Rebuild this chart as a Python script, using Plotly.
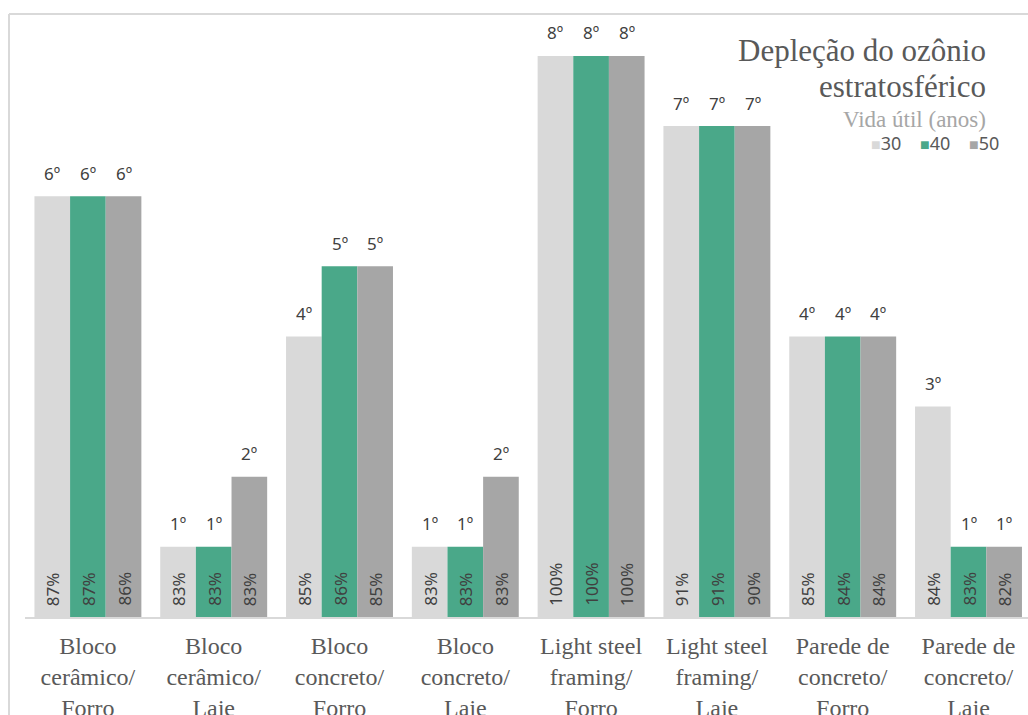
import plotly.graph_objects as go

# Building systems compared
tick_labels = [
    "Bloco<br>cerâmico/<br>Forro",
    "Bloco<br>cerâmico/<br>Laje",
    "Bloco<br>concreto/<br>Forro",
    "Bloco<br>concreto/<br>Laje",
    "Light steel<br>framing/<br>Forro",
    "Light steel<br>framing/<br>Laje",
    "Parede de<br>concreto/<br>Forro",
    "Parede de<br>concreto/<br>Laje",
]

# Service life scenarios (years)
series_names = ["30", "40", "50"]
series_colors = ["#D9D9D9", "#4AA889", "#A6A6A6"]

# Ranking position for each scenario
rank_30 = [6, 1, 4, 1, 8, 7, 4, 3]
rank_40 = [6, 1, 5, 1, 8, 7, 4, 1]
rank_50 = [6, 2, 5, 2, 8, 7, 4, 1]

# Relative impact (% of the worst system)
pct_30 = [87, 83, 85, 83, 100, 91, 85, 84]
pct_40 = [87, 83, 86, 83, 100, 91, 84, 83]
pct_50 = [86, 83, 85, 83, 100, 90, 84, 82]

ranks = [rank_30, rank_40, rank_50]
pcts = [pct_30, pct_40, pct_50]

W, H = 1028, 715
M_L, M_R, M_T, M_B = 25, 0, 20, 98
BARGAP = 0.15
CAT_PX = 125.8
UNIT_PX = 70.14

plot_w = W - M_L - M_R
plot_h = H - M_T - M_B
x_max = -0.5 + plot_w / CAT_PX
y_max = plot_h / UNIT_PX

SERIF = "Times New Roman, Liberation Serif, DejaVu Serif, serif"
SANS = "Noto Sans"

fig = go.Figure()
idx = list(range(len(tick_labels)))
for name, color, r in zip(series_names, series_colors, ranks):
    fig.add_trace(go.Bar(
        x=idx, y=r, name=name, marker=dict(color=color, line=dict(width=0)),
        showlegend=False, hoverinfo="skip",
    ))

# value labels: ordinal rank above each bar, percentage rotated inside at base
n = len(series_names)
bar_w = (1 - BARGAP) / n
annotations = []
for j, (r, p) in enumerate(zip(ranks, pcts)):
    off = (j - (n - 1) / 2) * bar_w
    for i in idx:
        annotations.append(dict(
            x=i + off, y=r[i], xref="x", yref="y", text=f"{r[i]}º",
            showarrow=False, yanchor="middle", yshift=23,
            font=dict(family=SANS, size=17, color="#404040"),
        ))
        annotations.append(dict(
            x=i + off, y=0, xref="x", yref="y", text=f"{p[i]}%",
            showarrow=False, yanchor="bottom", yshift=9, textangle=-90,
            font=dict(family=SANS, size=17, color="#404040"),
        ))

def px_x(px):
    return (px - M_L) / plot_w

def px_y(py):
    return (H - M_B - py) / plot_h

# Title block
annotations += [
    dict(x=px_x(988), y=px_y(50), xref="paper", yref="paper", text="Depleção do ozônio",
         showarrow=False, xanchor="right", yanchor="middle",
         font=dict(family=SERIF, size=31, color="#595959")),
    dict(x=px_x(988), y=px_y(87), xref="paper", yref="paper", text="estratosférico",
         showarrow=False, xanchor="right", yanchor="middle",
         font=dict(family=SERIF, size=31, color="#595959")),
    dict(x=px_x(988), y=px_y(120), xref="paper", yref="paper", text="Vida útil (anos)",
         showarrow=False, xanchor="right", yanchor="middle",
         font=dict(family=SERIF, size=23, color="#A6A6A6")),
]

# Legend row
legend_txt = "    ".join(
    f'<span style="color:{c};font-size:16px">■</span>{nm}'
    for nm, c in zip(series_names, series_colors)
)
annotations.append(dict(
    x=px_x(1001), y=px_y(143), xref="paper", yref="paper", text=legend_txt,
    showarrow=False, xanchor="right", yanchor="middle",
    font=dict(family=SANS, size=18, color="#595959"),
))

# Chart frame
shapes = [
    dict(type="line", xref="paper", yref="paper", x0=px_x(9), x1=px_x(9),
         y0=px_y(14), y1=px_y(H + 10), line=dict(color="#D9D9D9", width=2)),
    dict(type="line", xref="paper", yref="paper", x0=px_x(9), x1=px_x(W + 10),
         y0=px_y(14), y1=px_y(14), line=dict(color="#D9D9D9", width=2)),
]

fig.update_layout(
    width=W, height=H,
    margin=dict(l=M_L, r=M_R, t=M_T, b=M_B, pad=0),
    paper_bgcolor="white", plot_bgcolor="white",
    barmode="group", bargap=BARGAP, bargroupgap=0,
    annotations=annotations, shapes=shapes,
    xaxis=dict(
        tickmode="array", tickvals=idx, ticktext=tick_labels,
        range=[-0.5, x_max], showgrid=False, zeroline=False,
        showline=True, linecolor="#D9D9D9", linewidth=2,
        ticks="", ticklabelstandoff=6, automargin=False,
        tickfont=dict(family=SERIF, size=24, color="#595959"),
    ),
    yaxis=dict(range=[0, y_max], visible=False, automargin=False),
)

fig.write_html("out.html")
